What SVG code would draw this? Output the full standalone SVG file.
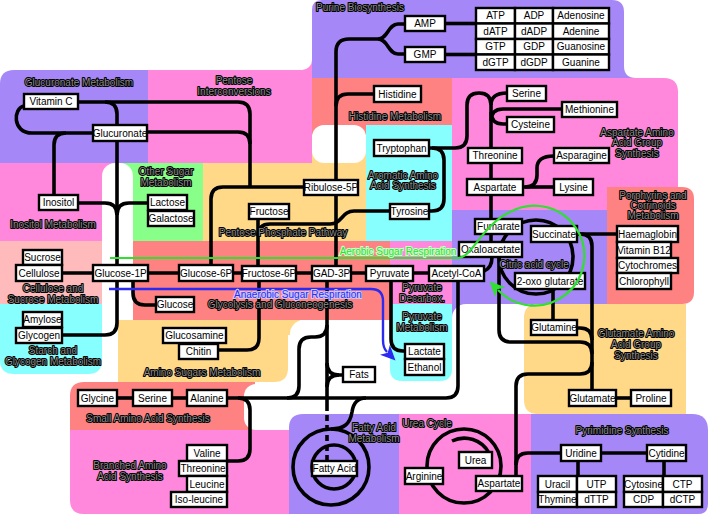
<svg xmlns="http://www.w3.org/2000/svg" width="711" height="516" viewBox="0 0 711 516">
<style>
.n rect{fill:#fff;stroke:#000;stroke-width:2.4}
.n text{font-family:"Liberation Sans",Arial,sans-serif;font-size:10px;text-anchor:middle;fill:#000}
.c path,.c circle{fill:none;stroke:#000;stroke-width:3.6}
.lb{font-family:"Liberation Sans",Arial,sans-serif;font-size:10px;text-anchor:middle;fill:#8a8a8a;stroke:#000;stroke-width:2px;paint-order:stroke;stroke-linejoin:round}
.pu{fill:#a687f7}.pk{fill:#ff88dd}.sa{fill:#ff8282}.cy{fill:#88ffff}.ye{fill:#ffd888}.gr{fill:#88ff88}.lp{fill:#ffbbbb}.wh{fill:#fff}
</style>
<defs>
<marker id="ga" markerUnits="userSpaceOnUse" markerWidth="16" markerHeight="14" refX="3" refY="7" orient="auto"><path d="M0,0 L15,7 L0,14 L4,7 Z" fill="#2fe02f"/></marker>
<marker id="ba" markerUnits="userSpaceOnUse" markerWidth="16" markerHeight="14" refX="3" refY="7" orient="auto"><path d="M0,0 L15,7 L0,14 L4,7 Z" fill="#2a2af0"/></marker>
</defs>
<rect width="711" height="516" fill="#fff"/>
<g id="regions">
<rect class="pk" x="148" y="60" width="164" height="103"/>
<path class="pu" d="M0,84 Q0,70 14,70 H148 V163 H0 Z"/>
<path class="pu" d="M312,10 Q312,0 322,0 H612 Q624,0 624,12 V66 Q624,78 636,78 H312 Z"/>
<rect class="sa" x="312" y="78" width="140" height="57"/>
<path class="pk" d="M452,78 H664 Q678,78 678,92 V210 H452 Z"/>
<rect class="cy" x="366" y="125" width="86" height="116"/>
<rect class="ye" x="203" y="163" width="163" height="78"/>
<rect class="ye" x="312" y="150" width="54" height="13"/>
<rect class="pk" x="0" y="163" width="118" height="78"/>
<rect class="gr" x="118" y="163" width="85" height="78"/>
<rect class="lp" x="0" y="241" width="102" height="63"/>
<path class="cy" d="M0,304 H102 V360 Q102,374 88,374 H14 Q0,374 0,360 Z"/>
<rect class="sa" x="133" y="241" width="257" height="79"/>
<rect class="pk" x="390" y="241" width="62" height="63"/>
<rect class="pu" x="452" y="210" width="155" height="108"/>
<path class="sa" d="M607,187 H682 Q694,187 694,199 V292 Q694,304 682,304 H607 Z"/>
<rect class="ye" x="118" y="320" width="182" height="15"/>
<path class="sa" d="M84,382 H255 V430 H70 V396 Q70,382 84,382 Z"/>
<path class="pk" d="M70,430 H289 V514 H84 Q70,514 70,500 Z"/>
<rect class="wh" x="-50" y="-50" width="362" height="120" rx="10"/>
<rect class="wh" x="312" y="125" width="54" height="38" rx="12"/>
<rect class="wh" x="102" y="163" width="31" height="219" rx="13"/>
<rect class="wh" x="290" y="320" width="110" height="100" rx="14"/>
<rect class="wh" x="452" y="304" width="88" height="116" rx="14"/>
<rect class="wh" x="380" y="370" width="160" height="50"/>
<rect class="wh" x="244" y="384" width="60" height="46" rx="12"/>
<path class="ye" d="M538,304 H686 V414 H538 Q524,414 524,400 V318 Q524,304 538,304 Z"/>
<path class="cy" d="M390,304 H452 V369 Q452,381 440,381 H402 Q390,381 390,369 Z"/>
<path class="ye" d="M118,320 H288 V368 Q288,382 274,382 H118 Z"/>
<path class="pu" d="M303,414 H399 V514 H289 V428 Q289,414 303,414 Z"/>
<rect class="pk" x="399" y="414" width="132" height="100"/>
<path class="pu" d="M531,414 H692 Q708,414 708,430 V504 Q708,514 698,514 H531 Z"/>
</g>
<g id="connectors" class="c">
<path d="M24,106 C13,108 12,133 32,133 H93"/>
<path d="M66,133 Q54,133 54,145 V195"/>
<path d="M78,102 H238 Q250,102 250,114 V187"/>
<path d="M147,132 H238 Q250,132 250,144"/>
<path d="M105,102 Q117,102 117,114 V323 Q117,335 105,335 H62"/>
<path d="M78,203 H105 Q117,203 117,215"/>
<path d="M148,203 H129 Q117,203 117,215"/>
<path d="M304,187 H223 Q211,187 211,199 V265"/>
<path d="M62,273 H429"/>
<path d="M133,281 V293 Q133,305 145,305 H156"/>
<path d="M258,219 V266"/>
<path d="M390,211 H354 C342,211 342,224 330,224 H270 Q258,224 258,236"/>
<path d="M259,281 V338 Q259,350 247,350 H218"/>
<path d="M405,24 H398 C388,24 388,39 378,39 H349 Q336,39 336,52 V266"/>
<path d="M405,54 H398 C388,54 388,39 378,39"/>
<path d="M445,23.5 H476"/>
<path d="M445,54.5 H476"/>
<path d="M374,94 H348 Q336,94 336,106"/>
<path d="M429,148 H455 Q467,148 467,136 V105 Q467,93 479,93 Q491,93 491,105 V148"/>
<path d="M507,93 Q491,93 491,105"/>
<path d="M562,109 H503 Q491,109 491,121"/>
<path d="M491,112 Q491,124 503,124 H507"/>
<path d="M432,148 Q444,148 444,160 V199 Q444,211 432,211 H429"/>
<path d="M491,163 V242"/>
<path d="M554,156 Q537,156 537,168 V175 Q537,187 525,187"/>
<path d="M523,187 H554"/>
<path d="M492,257 Q492,268 484,271"/>
<circle cx="536" cy="257" r="37"/>
<path d="M499,257 V330 Q499,342 511,342 H580 Q592,342 592,354"/>
<path d="M577,234 H617"/>
<path d="M580,234 Q592,234 592,246 V390"/>
<path d="M577,328 H580 Q592,328 592,340"/>
<path d="M553,289 V320"/>
<path d="M616,398 H631"/>
<path d="M516,476 V386 Q516,374 528,374 H580 Q592,374 592,362"/>
<path d="M516,465 Q516,453 528,453 H561"/>
<path d="M601,453 H647"/>
<path d="M578,461 V476"/>
<path d="M664,461 V476"/>
<circle cx="464" cy="466" r="37"/>
<path d="M452,441 A28,28 0 0 1 489,453"/>
<path d="M391,281 V339 Q391,351 403,351 H405"/>
<path d="M458,281 V386 Q458,398 446,398 H227"/>
<path d="M117,398 H133"/>
<path d="M172,398 H187"/>
<path d="M238,398 Q250,398 250,410 V449 Q250,461 238,461 H227"/>
<path d="M287,398 Q299,398 299,386 V349 Q299,337 311,337 H315 Q327,337 327,325"/>
<path d="M327,281 V405"/>
<path d="M327,405 V461" stroke-dasharray="6 4"/>
<path d="M343,375 H339 Q327,375 327,363"/>
<path d="M339,375 Q327,375 327,387"/>
<circle cx="331" cy="467" r="38"/>
<circle cx="334" cy="467" r="22"/>
<path d="M331,429 C344,429 350,424 352,412 Q354,398 366,398"/>
</g>
<g id="labels">
<text class="lb" x="79" y="85.5">Glucuronate Metabolism</text>
<text class="lb" x="234" y="83.5">Pentose</text>
<text class="lb" x="234" y="94.5">Interconversions</text>
<text class="lb" x="360" y="11">Purine Biosynthesis</text>
<text class="lb" x="395" y="119.5">Histidine Metabolism</text>
<text class="lb" x="637" y="135.5">Aspartate Amino</text>
<text class="lb" x="637" y="146">Acid Group</text>
<text class="lb" x="637" y="156.5">Synthesis</text>
<text class="lb" x="166" y="174.5">Other Sugar</text>
<text class="lb" x="166" y="185.5">Metabolism</text>
<text class="lb" x="403" y="178.5">Aromatic Amino</text>
<text class="lb" x="403" y="188.5">Acid Synthesis</text>
<text class="lb" x="653" y="198.5">Porphyrins and</text>
<text class="lb" x="653" y="208.5">Corrinoids</text>
<text class="lb" x="653" y="218.5">Metabolism</text>
<text class="lb" x="53" y="227.5">Inositol Metabolism</text>
<text class="lb" x="283" y="235.5">Pentose Phosphate Pathway</text>
<text class="lb" x="534" y="267.5">Citric acid cycle</text>
<text class="lb" x="53" y="291.5">Cellulose and</text>
<text class="lb" x="53" y="302.5">Sucrose Metabolism</text>
<text class="lb" x="422" y="290.5">Pyruvate</text>
<text class="lb" x="422" y="301.5">Decarbox.</text>
<text class="lb" x="280" y="307.5">Glycolysis and Gluconeogenesis</text>
<text class="lb" x="422" y="319.5">Pyruvate</text>
<text class="lb" x="422" y="330.5">Metabolism</text>
<text class="lb" x="636" y="336.5">Glutamate Amino</text>
<text class="lb" x="636" y="347.5">Acid Group</text>
<text class="lb" x="636" y="358.5">Synthesis</text>
<text class="lb" x="53" y="353.5">Starch and</text>
<text class="lb" x="53" y="364.5">Glycogen Metabolism</text>
<text class="lb" x="202" y="375.5">Amino Sugars Metabolism</text>
<text class="lb" x="148" y="421.5">Small Amino Acid Synthesis</text>
<text class="lb" x="374" y="430.5">Fatty Acid</text>
<text class="lb" x="374" y="441.5">Metabolism</text>
<text class="lb" x="427" y="426.5">Urea Cycle</text>
<text class="lb" x="622" y="433.5">Pyrimidine Synthesis</text>
<text class="lb" x="130" y="468.5">Branched Amino</text>
<text class="lb" x="130" y="479.5">Acid Synthesis</text>
</g>
<g id="n-vitc" class="n"><rect x="24" y="94" width="54" height="15"/><text x="51" y="105">Vitamin C</text></g>
<g id="n-glucuronate" class="n"><rect x="93" y="125" width="54" height="16"/><text x="120" y="136.6">Glucuronate</text></g>
<g id="n-amp" class="n"><rect x="405" y="16" width="40" height="15"/><text x="425" y="27">AMP</text></g>
<g id="n-gmp" class="n"><rect x="405" y="47" width="40" height="15"/><text x="425" y="58">GMP</text></g>
<g id="n-purines" class="n">
<rect x="476" y="8" width="39" height="15.5"/><rect x="515" y="8" width="38" height="15.5"/><rect x="553" y="8" width="56" height="15.5"/>
<rect x="476" y="23.5" width="39" height="15.5"/><rect x="515" y="23.5" width="38" height="15.5"/><rect x="553" y="23.5" width="56" height="15.5"/>
<rect x="476" y="39" width="39" height="15.5"/><rect x="515" y="39" width="38" height="15.5"/><rect x="553" y="39" width="56" height="15.5"/>
<rect x="476" y="54.5" width="39" height="15.5"/><rect x="515" y="54.5" width="38" height="15.5"/><rect x="553" y="54.5" width="56" height="15.5"/>
<text x="495.5" y="19.4">ATP</text><text x="534" y="19.4">ADP</text><text x="581" y="19.4">Adenosine</text>
<text x="495.5" y="34.9">dATP</text><text x="534" y="34.9">dADP</text><text x="581" y="34.9">Adenine</text>
<text x="495.5" y="50.4">GTP</text><text x="534" y="50.4">GDP</text><text x="581" y="50.4">Guanosine</text>
<text x="495.5" y="65.9">dGTP</text><text x="534" y="65.9">dGDP</text><text x="581" y="65.9">Guanine</text>
</g>
<g id="n-histidine" class="n"><rect x="374" y="86" width="47" height="16"/><text x="397.5" y="97.6">Histidine</text></g>
<g id="n-tryptophan" class="n"><rect x="374" y="140" width="55" height="16"/><text x="401.5" y="151.6">Tryptophan</text></g>
<g id="n-serine1" class="n"><rect x="507" y="86" width="39" height="15"/><text x="526.5" y="97">Serine</text></g>
<g id="n-methionine" class="n"><rect x="562" y="102" width="55" height="15"/><text x="589.5" y="113">Methionine</text></g>
<g id="n-cysteine" class="n"><rect x="507" y="117" width="47" height="15"/><text x="530.5" y="128">Cysteine</text></g>
<g id="n-threonine1" class="n"><rect x="468" y="148" width="54" height="15"/><text x="495" y="159">Threonine</text></g>
<g id="n-asparagine" class="n"><rect x="554" y="148" width="55" height="15"/><text x="581.5" y="159">Asparagine</text></g>
<g id="n-aspartate1" class="n"><rect x="467" y="179" width="56" height="16"/><text x="495" y="190.6">Aspartate</text></g>
<g id="n-lysine" class="n"><rect x="554" y="179" width="39" height="16"/><text x="573.5" y="190.6">Lysine</text></g>
<g id="n-ribulose" class="n"><rect x="304" y="180" width="54" height="15"/><text x="331" y="191">Ribulose-5P</text></g>
<g id="n-fructose" class="n"><rect x="249" y="204" width="40" height="15"/><text x="269" y="215">Fructose</text></g>
<g id="n-tyrosine" class="n"><rect x="390" y="204" width="39" height="15"/><text x="409.5" y="215">Tyrosine</text></g>
<g id="n-inositol" class="n"><rect x="39" y="195" width="39" height="15"/><text x="58.5" y="206">Inositol</text></g>
<g id="n-lactose" class="n"><rect x="148" y="195" width="39" height="15"/><text x="167.5" y="206">Lactose</text></g>
<g id="n-galactose" class="n"><rect x="148" y="211" width="46" height="15"/><text x="171" y="222">Galactose</text></g>
<g id="n-fumarate" class="n"><rect x="475" y="219" width="47" height="15"/><text x="498.5" y="230">Fumarate</text></g>
<g id="n-succinate" class="n"><rect x="531" y="226" width="46" height="16"/><text x="554" y="237.6">Succinate</text></g>
<g id="n-oxaloacetate" class="n"><rect x="459" y="242" width="63" height="15"/><text x="490.5" y="253">Oxaloacetate</text></g>
<g id="n-porphyrins" class="n">
<rect x="617" y="226" width="61" height="16"/><text x="647.5" y="237.6">Haemaglobin</text>
<rect x="617" y="242" width="54" height="16"/><text x="644" y="253.6">Vitamin B12</text>
<rect x="617" y="258" width="61" height="15"/><text x="647.5" y="269">Cytochromes</text>
<rect x="617" y="273" width="54" height="16"/><text x="644" y="284.6">Chlorophyll</text>
</g>
<g id="n-sucrose" class="n"><rect x="23" y="250" width="39" height="15"/><text x="42.5" y="261">Sucrose</text></g>
<g id="n-cellulose" class="n"><rect x="16" y="265" width="46" height="16"/><text x="39" y="276.6">Cellulose</text></g>
<g id="n-g1p" class="n"><rect x="93" y="265" width="55" height="16"/><text x="120.5" y="276.6">Glucose-1P</text></g>
<g id="n-g6p" class="n"><rect x="179" y="265" width="54" height="16"/><text x="206" y="276.6">Glucose-6P</text></g>
<g id="n-f6p" class="n"><rect x="242" y="266" width="54" height="15"/><text x="269" y="277">Fructose-6P</text></g>
<g id="n-gad3p" class="n"><rect x="312" y="266" width="39" height="15"/><text x="331.5" y="277">GAD-3P</text></g>
<g id="n-pyruvate" class="n"><rect x="366" y="266" width="47" height="15"/><text x="389.5" y="277">Pyruvate</text></g>
<g id="n-acetylcoa" class="n"><rect x="429" y="266" width="55" height="15"/><text x="456.5" y="277">Acetyl-CoA</text></g>
<g id="n-oxoglutarate" class="n"><rect x="515" y="273" width="70" height="16"/><text x="550" y="284.6">2-oxo glutarate</text></g>
<g id="n-glucose" class="n"><rect x="156" y="297" width="38" height="15"/><text x="175" y="308">Glucose</text></g>
<g id="n-amylose" class="n"><rect x="23" y="312" width="39" height="15"/><text x="42.5" y="323">Amylose</text></g>
<g id="n-glycogen" class="n"><rect x="16" y="328" width="46" height="15"/><text x="39" y="339">Glycogen</text></g>
<g id="n-glucosamine" class="n"><rect x="163" y="328" width="63" height="15"/><text x="194.5" y="339">Glucosamine</text></g>
<g id="n-chitin" class="n"><rect x="179" y="344" width="39" height="15"/><text x="198.5" y="355">Chitin</text></g>
<g id="n-glutamine" class="n"><rect x="531" y="320" width="46" height="15"/><text x="554" y="331">Glutamine</text></g>
<g id="n-lactate" class="n"><rect x="405" y="344" width="39" height="15"/><text x="424.5" y="355">Lactate</text></g>
<g id="n-ethanol" class="n"><rect x="405" y="359" width="39" height="16"/><text x="424.5" y="370.6">Ethanol</text></g>
<g id="n-fats" class="n"><rect x="343" y="367" width="32" height="15"/><text x="359" y="378">Fats</text></g>
<g id="n-glycine" class="n"><rect x="78" y="390" width="39" height="16"/><text x="97.5" y="401.6">Glycine</text></g>
<g id="n-serine2" class="n"><rect x="133" y="390" width="39" height="16"/><text x="152.5" y="401.6">Serine</text></g>
<g id="n-alanine" class="n"><rect x="187" y="390" width="40" height="16"/><text x="207" y="401.6">Alanine</text></g>
<g id="n-glutamate" class="n"><rect x="569" y="390" width="47" height="16"/><text x="592.5" y="401.6">Glutamate</text></g>
<g id="n-proline" class="n"><rect x="631" y="390" width="40" height="16"/><text x="651" y="401.6">Proline</text></g>
<g id="n-uridine" class="n"><rect x="561" y="445" width="40" height="16"/><text x="581" y="456.6">Uridine</text></g>
<g id="n-cytidine" class="n"><rect x="647" y="445" width="39" height="16"/><text x="666.5" y="456.6">Cytidine</text></g>
<g id="n-urea" class="n"><rect x="459" y="452" width="33" height="16"/><text x="475.5" y="463.6">Urea</text></g>
<g id="n-fattyacid" class="n"><rect x="312" y="461" width="45" height="15"/><text x="334.5" y="472">Fatty Acid</text></g>
<g id="n-arginine" class="n"><rect x="405" y="468" width="38" height="16"/><text x="424" y="479.6">Arginine</text></g>
<g id="n-aspartate2" class="n"><rect x="476" y="476" width="46" height="15"/><text x="499" y="487">Aspartate</text></g>
<g id="n-branched" class="n">
<rect x="187" y="445" width="40" height="16"/><text x="207" y="456.6">Valine</text>
<rect x="179" y="461" width="48" height="15"/><text x="203" y="472">Threonine</text>
<rect x="187" y="476" width="40" height="16"/><text x="207" y="487.6">Leucine</text>
<rect x="171" y="492" width="56" height="15"/><text x="199" y="503">Iso-leucine</text>
</g>
<g id="n-uracil" class="n">
<rect x="538" y="476" width="39" height="16"/><rect x="577" y="476" width="39" height="16"/>
<rect x="538" y="492" width="39" height="15"/><rect x="577" y="492" width="39" height="15"/>
<text x="557.5" y="487.6">Uracil</text><text x="596.5" y="487.6">UTP</text>
<text x="557.5" y="503">Thymine</text><text x="596.5" y="503">dTTP</text>
</g>
<g id="n-cytosine" class="n">
<rect x="624" y="476" width="39" height="16"/><rect x="663" y="476" width="39" height="16"/>
<rect x="624" y="492" width="39" height="15"/><rect x="663" y="492" width="39" height="15"/>
<text x="643.5" y="487.6">Cytosine</text><text x="682.5" y="487.6">CTP</text>
<text x="643.5" y="503">CDP</text><text x="682.5" y="503">dCTP</text>
</g>
<g id="respiration">
<path d="M110,258 H458 C472,258 482,225 510,212 A50,50 0 1 1 498,290" fill="none" stroke="#2fe02f" stroke-width="2.2" marker-end="url(#ga)"/>
<path d="M109,289 H371 Q383,289 383,301 V340 Q383,348 387,352" fill="none" stroke="#2a2af0" stroke-width="2.4" marker-end="url(#ba)"/>
<text x="398" y="254.5" font-family="Liberation Sans, Arial, sans-serif" font-size="10" text-anchor="middle" fill="#2fe02f" stroke="#c8ffc8" stroke-width="2" paint-order="stroke">Aerobic Sugar Respiration</text>
<text x="298" y="297.5" font-family="Liberation Sans, Arial, sans-serif" font-size="10" text-anchor="middle" fill="#2a2af0" stroke="#c8c8ff" stroke-width="2" paint-order="stroke">Anaerobic Sugar Respiration</text>
</g>
</svg>
